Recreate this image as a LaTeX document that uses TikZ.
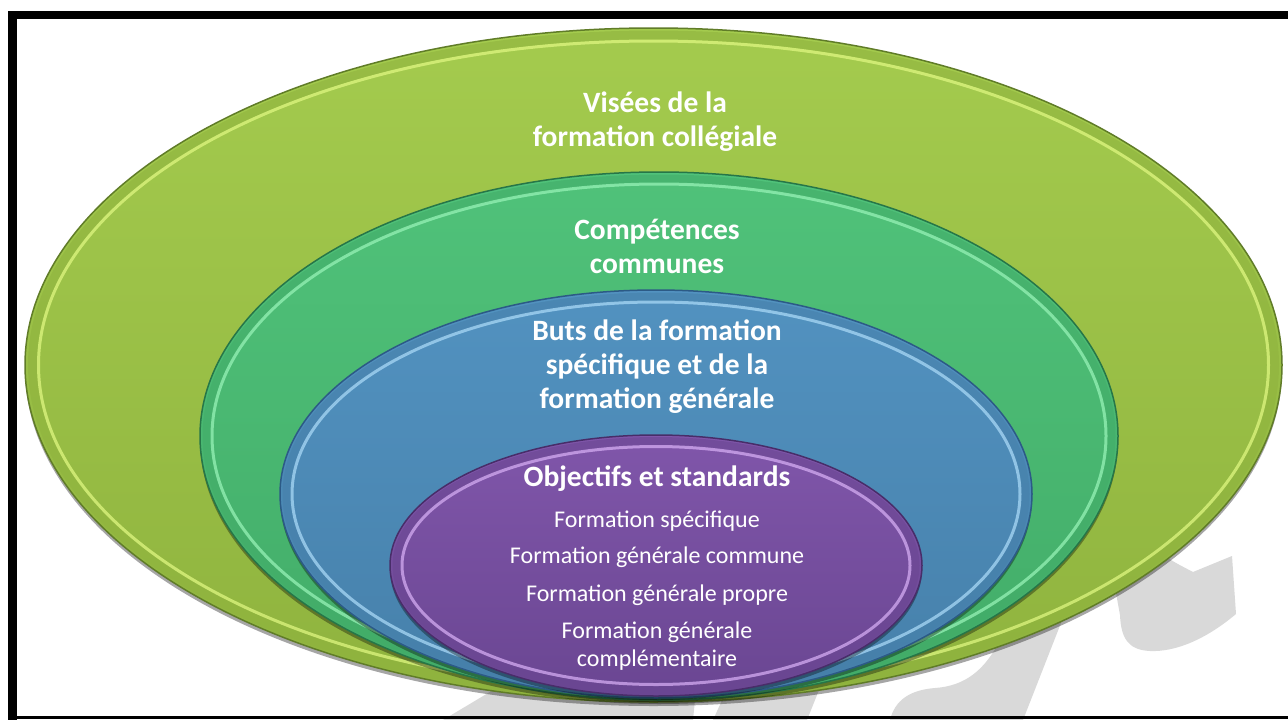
\documentclass[tikz,border=0pt]{standalone}
\usepackage{fontspec}
\setmainfont{Carlito}
\usetikzlibrary{shadows}

\definecolor{limefill}{RGB}{164,203,78}
\definecolor{limedark}{RGB}{143,179,62}
\definecolor{limeline}{RGB}{96,124,40}
\definecolor{limelight}{RGB}{222,246,128}
\definecolor{mintfill}{RGB}{80,194,122}
\definecolor{mintdark}{RGB}{66,172,104}
\definecolor{mintline}{RGB}{38,118,72}
\definecolor{mintlight}{RGB}{150,242,182}
\definecolor{steelfill}{RGB}{82,146,192}
\definecolor{steeldark}{RGB}{70,128,170}
\definecolor{steelline}{RGB}{44,90,134}
\definecolor{steellight}{RGB}{168,216,246}
\definecolor{violetfill}{RGB}{128,86,170}
\definecolor{violetdark}{RGB}{106,70,146}
\definecolor{violetline}{RGB}{72,45,105}
\definecolor{violetlight}{RGB}{212,172,242}
\definecolor{markgray}{RGB}{217,217,217}

\begin{document}
\begin{tikzpicture}[x=1pt, y=-1pt,
  ring/.style={draw=#1line, line width=1.5pt, top color=#1fill, bottom color=#1dark,
    drop shadow={shadow xshift=0pt, shadow yshift=-4pt, opacity=.35, fill=black}},
  band/.style={draw=#1dark, line width=9pt, opacity=.6},
  rim/.style={draw=#1light, line width=3pt, opacity=.75},
  ringtitle/.style={text=white, align=center, font=\fontsize{29.5}{34}\selectfont\bfseries},
  listitem/.style={text=white, align=center, font=\fontsize{24}{28}\selectfont}]
  \useasboundingbox (0,0) rectangle (1288,720);
  \fill[white] (0,0) rectangle (1288,720);

  % Watermark
  \fill[markgray] (443,720) -- (560,650) -- (700,650) -- (693,720) -- cycle;
  \fill[markgray] (745,650) -- (835,650) -- (807,720) -- (713,720) -- cycle;
  \fill[markgray] (1070,600) -- (1023,720) -- (890,720)
    .. controls (895,700) and (910,690) .. (935,688)
    .. controls (965,686) and (985,670) .. (1000,640) -- (1010,600) -- cycle;
  \fill[markgray] (1150,545) .. controls (1170,560) .. (1193,572) -- (1232,556)
    -- (1236,614) .. controls (1205,640) and (1175,652) .. (1150,651)
    .. controls (1128,650) and (1121,638) .. (1120,615) -- (1110,560) -- cycle;

  % Frame
  \fill (8,11) rectangle (1288,19);
  \fill (8,11) rectangle (17,720);
  \fill (8,716) rectangle (1288,718.5);

  % Visees
  \draw[ring=lime] (653.5,365) ellipse [x radius=628.5pt, y radius=337pt];
  \draw[band=lime] (653.5,365) ellipse [x radius=621pt, y radius=330pt];
  \draw[rim=lime] (653.5,365) ellipse [x radius=615pt, y radius=324pt];

  % Competences
  \draw[ring=mint] (659,436) ellipse [x radius=459pt, y radius=264pt];
  \draw[band=mint] (659,436) ellipse [x radius=452pt, y radius=257pt];
  \draw[rim=mint] (659,436) ellipse [x radius=447pt, y radius=252pt];

  % Buts
  \draw[ring=steel] (656,494) ellipse [x radius=376pt, y radius=204pt];
  \draw[band=steel] (656,494) ellipse [x radius=369pt, y radius=197pt];
  \draw[rim=steel] (656,494) ellipse [x radius=364pt, y radius=192pt];

  % Objectifs
  \draw[ring=violet] (656,565.5) ellipse [x radius=266pt, y radius=130.5pt];
  \draw[band=violet] (656,565.5) ellipse [x radius=259pt, y radius=124pt];
  \draw[rim=violet] (656,565.5) ellipse [x radius=254pt, y radius=119pt];

  % Titles
  \node[ringtitle] (vis) at (655,122) {Visées de la\\formation collégiale};
  \node[ringtitle] (comp) at (657,246) {Compétences\\communes};
  \node[ringtitle] (buts) at (657,367) {Buts de la formation\\spécifique et de la\\formation générale};
  \node[ringtitle] (obj) at (657,479) {Objectifs et standards};

  % List
  \node[listitem] (fspec) at (657,521) {Formation spécifique};
  \node[listitem] (fcomm) at (657,557) {Formation générale commune};
  \node[listitem] (fprop) at (657,595) {Formation générale propre};
  \node[listitem] (fcompl) at (657,646) {Formation générale\\complémentaire};
\end{tikzpicture}
\end{document}
